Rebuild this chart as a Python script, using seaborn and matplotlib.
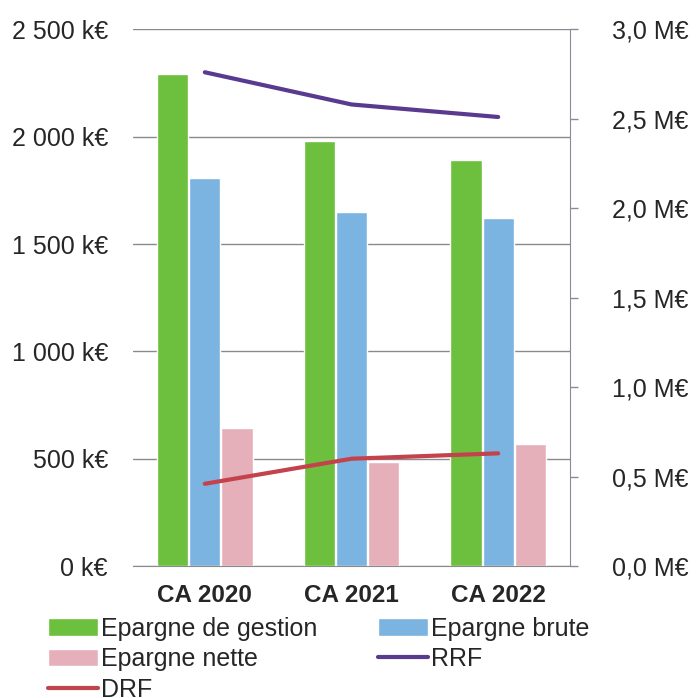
import numpy as np
import pandas as pd
import seaborn as sns
import matplotlib.pyplot as plt

# data (k€ for bars, M€ for lines)
categories = ["CA 2020", "CA 2021", "CA 2022"]
epargne_gestion = [2290, 1980, 1890]
epargne_brute = [1806, 1648, 1620]
epargne_nette = [642, 484, 568]
rrf = [2.76, 2.58, 2.51]
drf = [0.46, 0.60, 0.63]

left_ticks = [0, 500, 1000, 1500, 2000, 2500]
left_labels = ["0 k€", "500 k€", "1 000 k€", "1 500 k€", "2 000 k€", "2 500 k€"]
right_ticks = [0.0, 0.5, 1.0, 1.5, 2.0, 2.5, 3.0]
right_labels = ["0,0 M€", "0,5 M€", "1,0 M€", "1,5 M€", "2,0 M€", "2,5 M€", "3,0 M€"]

colors = {"Epargne de gestion": "#6dbf3e", "Epargne brute": "#7bb4e0",
          "Epargne nette": "#e6b0bb"}
c_rrf = "#5a3a8e"
c_drf = "#c4424c"

sns.set_style("white")
plt.rcParams['font.family'] = ['Liberation Sans', 'DejaVu Sans']

df = pd.DataFrame({
    "cat": categories * 3,
    "serie": ["Epargne de gestion"] * 3 + ["Epargne brute"] * 3 + ["Epargne nette"] * 3,
    "val": epargne_gestion + epargne_brute + epargne_nette,
})

fig = plt.figure(figsize=(6.96, 6.98), dpi=100)
ax = fig.add_axes([0.191, 0.189, 0.628, 0.769])

sns.barplot(data=df, x="cat", y="val", hue="serie", palette=colors,
            width=0.66, gap=0.03, ax=ax, saturation=1, legend=True)
ax.set_xlim(-0.49, 2.49)
ax.set_ylim(0, 2500)
ax.set_yticks(left_ticks)
ax.set_yticklabels(left_labels, fontsize=18)
ax.yaxis.grid(True, color="#8a8a8a", linewidth=1)
ax.set_axisbelow(True)
ax.tick_params(axis="y", length=0, pad=18)
ax.tick_params(axis="x", length=0, pad=13)
for lab in ax.get_xticklabels():
    lab.set_fontweight("bold")
    lab.set_fontsize(17.5)
ax.set_xlabel("")
ax.set_ylabel("")
for s in ["left", "top", "right"]:
    ax.spines[s].set_visible(False)
ax.spines["bottom"].set_color("#8a8a8a")

bar_h, bar_l = ax.get_legend_handles_labels()
ax.get_legend().remove()

ax2 = ax.twinx()
pos = np.arange(len(categories))
sns.lineplot(x=pos, y=rrf, color=c_rrf, linewidth=3, ax=ax2, label="RRF", legend=False)
sns.lineplot(x=pos, y=drf, color=c_drf, linewidth=3, ax=ax2, label="DRF", legend=False)
ax2.set_ylim(0, 3.0)
ax2.set_yticks(right_ticks)
ax2.set_yticklabels(right_labels, fontsize=18)
ax2.tick_params(axis="y", length=6, width=1, color="#8a8a9a", pad=24.5)
for s in ["left", "top", "bottom"]:
    ax2.spines[s].set_visible(False)
ax2.spines["right"].set_color("#8a8a9a")
ax2.set_ylabel("")
ax2.grid(False)

line_h, line_l = ax2.get_legend_handles_labels()
hmap = dict(zip(bar_l + line_l, bar_h + line_h))
order = ["Epargne de gestion", "Epargne nette", "DRF", "Epargne brute", "RRF"]
fig.legend([hmap[k] for k in order], order, loc="upper left",
           bbox_to_anchor=(0.054, 0.131), ncol=2, frameon=False,
           fontsize=18, handlelength=2.0, handletextpad=0.12,
           columnspacing=2.43, labelspacing=0.26, borderaxespad=0)

fig.savefig("out.png", dpi=100)
